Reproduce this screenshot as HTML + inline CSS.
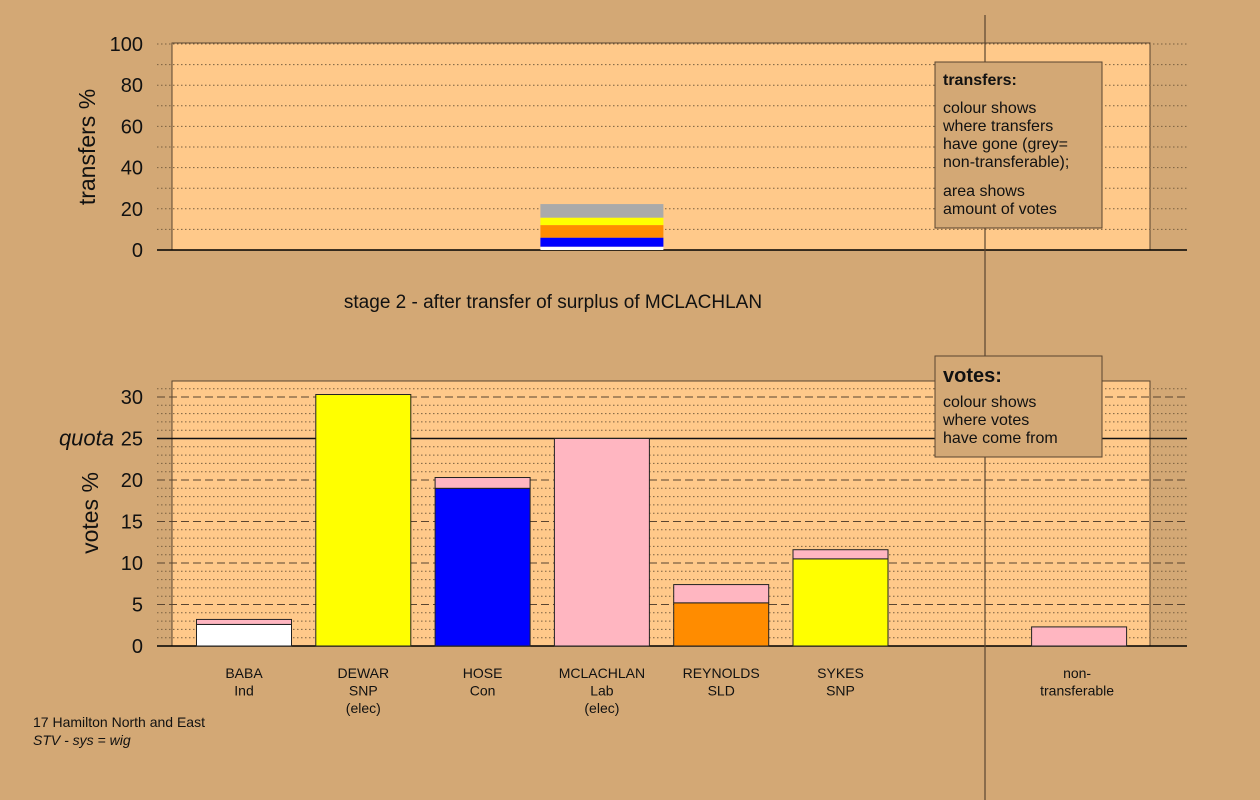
<!DOCTYPE html>
<html><head><meta charset="utf-8"><style>
body{margin:0;background:#d3a875;}
svg{display:block;font-family:"Liberation Sans",sans-serif;}
</style></head><body>
<svg id="c" width="1260" height="800" viewBox="0 0 1260 800"></svg>
<script>
const candidates=["BABA\nInd","DEWAR\nSNP\n(elec)","HOSE\nCon","MCLACHLAN\nLab\n(elec)","REYNOLDS\nSLD","SYKES\nSNP","","non-\ntransferable"];
// stacked segments per candidate: [value top, colour]
const voteStacks=[[[2.6,"#ffffff"],[3.2,"#ffb6c1"]],[[30.3,"#ffff00"]],[[19.0,"#0000ff"],[20.3,"#ffb6c1"]],[[25.0,"#ffb6c1"]],[[5.2,"#ff8c00"],[7.4,"#ffb6c1"]],[[10.5,"#ffff00"],[11.6,"#ffb6c1"]],[],[[2.3,"#ffb6c1"]]];
const transferStack=[[1.6,"#ffffff"],[6.0,"#0000ff"],[12.1,"#ff8c00"],[15.7,"#ffff00"],[22.3,"#aaaaaa"]];
const transferTicks=[0,20,40,60,80,100];
const voteTicks=[0,5,10,15,20,25,30];
const quota=25;
const transferSlot=3;

const svg=document.getElementById('c');const NS="http://www.w3.org/2000/svg";
function mk(t,a,name,p){const e=document.createElementNS(NS,t);for(const k in a)e.setAttribute(k,a[k]);


(p||svg).appendChild(e);return e;}
const slotX=i=>244+i*119.3;const barW=95;
const ty=v=>250-v*2.06;const vy=v=>646-v*8.3;

// top panel
mk('rect',{x:172,y:43,width:978,height:207,fill:'#ffc98a',stroke:'#5a4530','stroke-width':1},'transfers-panel');
for(let v=0;v<=100;v+=10){mk('line',{x1:157,x2:1187,y1:ty(v),y2:ty(v),stroke:'#7a6040','stroke-dasharray':'1.5,2.5','stroke-width':1},'transfer-gridline');}
mk('line',{x1:157,x2:1187,y1:250,y2:250,stroke:'#000','stroke-width':1.5},'transfer-baseline');
transferTicks.forEach(v=>{const t=mk('text',{x:143,y:ty(v)+7,'text-anchor':'end','font-size':20,fill:'#111'},'transfer-tick-label');t.textContent=v;});
let t=mk('text',{x:95,y:147,'text-anchor':'middle','font-size':23,fill:'#111',transform:'rotate(-90 95 147)'},'transfers-axis-title');t.textContent='transfers %';
let prev=0;transferStack.forEach(([v,c])=>{mk('rect',{x:slotX(transferSlot)-61.5,y:ty(v),width:123,height:ty(prev)-ty(v),fill:c},'transfer-segment');prev=v;});
t=mk('text',{x:553,y:308,'text-anchor':'middle','font-size':19,fill:'#111'},'stage-title');t.textContent='stage 2 - after transfer of surplus of MCLACHLAN';

// bottom panel
mk('rect',{x:172,y:381,width:978,height:265,fill:'#ffc98a',stroke:'#5a4530','stroke-width':1},'votes-panel');
for(let v=1;v<=31;v++){if(v%5===0)continue;mk('line',{x1:157,x2:1187,y1:vy(v),y2:vy(v),stroke:'#7a6040','stroke-dasharray':'1.5,2.5','stroke-width':1},'vote-minor-gridline');}
for(let v=5;v<=30;v+=5){if(v===quota)continue;mk('line',{x1:157,x2:1187,y1:vy(v),y2:vy(v),stroke:'#5a4530','stroke-dasharray':'8,4','stroke-width':1},'vote-major-gridline');}
mk('line',{x1:157,x2:1187,y1:vy(quota),y2:vy(quota),stroke:'#111','stroke-width':1.5},'quota-line');
mk('line',{x1:157,x2:1187,y1:646,y2:646,stroke:'#000','stroke-width':1.5},'votes-baseline');
voteTicks.forEach(v=>{const t=mk('text',{x:143,y:vy(v)+7,'text-anchor':'end','font-size':20,fill:'#111'},'vote-tick-label');t.textContent=v;});
t=mk('text',{x:114,y:vy(quota)+7,'text-anchor':'end','font-size':22,'font-style':'italic',fill:'#111'},'quota-label');t.textContent='quota';
t=mk('text',{x:98,y:513,'text-anchor':'middle','font-size':23,fill:'#111',transform:'rotate(-90 98 513)'},'votes-axis-title');t.textContent='votes %';
voteStacks.forEach((st,i)=>{let p=0;st.forEach(([v,c])=>{mk('rect',{x:slotX(i)-barW/2,y:vy(v),width:barW,height:vy(p)-vy(v),fill:c,stroke:'#222','stroke-width':1},'vote-bar-segment');p=v;});
 candidates[i].split('\n').forEach((ln,j)=>{if(!ln)return;const tt=mk('text',{x:slotX(i)+(i===7?-2:0),y:678+j*17.5,'text-anchor':'middle','font-size':14,fill:'#111'},'candidate-label');tt.textContent=ln;});});

mk('line',{x1:985,x2:985,y1:15,y2:800,stroke:'#5a4530','stroke-width':1.2},'separator-line');

// legends
mk('rect',{x:935,y:62,width:167,height:166,fill:'#d3a875',stroke:'#5a4530'},'transfers-legend-box');
[['transfers:',85,16,'bold'],['colour shows',113,16],['where transfers',131,16],['have gone (grey=',149,16],['non-transferable);',167,16],['area shows',196,16],['amount of votes',214,16]].forEach(([s,y,f,w])=>{const tt=mk('text',{x:943,y:y,'font-size':f,'font-weight':w||'normal',fill:'#111'},'legend-text');tt.textContent=s;});
mk('rect',{x:935,y:356,width:167,height:101,fill:'#d3a875',stroke:'#5a4530'},'votes-legend-box');
[['votes:',382,20,'bold'],['colour shows',407,16],['where votes',425,16],['have come from',443,16]].forEach(([s,y,f,w])=>{const tt=mk('text',{x:943,y:y,'font-size':f,'font-weight':w||'normal',fill:'#111'},'legend-text');tt.textContent=s;});

t=mk('text',{x:33,y:727,'font-size':14,fill:'#111'},'constituency-label');t.textContent='17 Hamilton North and East';
t=mk('text',{x:33,y:745,'font-size':14,'font-style':'italic',fill:'#111'},'system-label');t.textContent='STV - sys = wig';
</script>
</body></html>
